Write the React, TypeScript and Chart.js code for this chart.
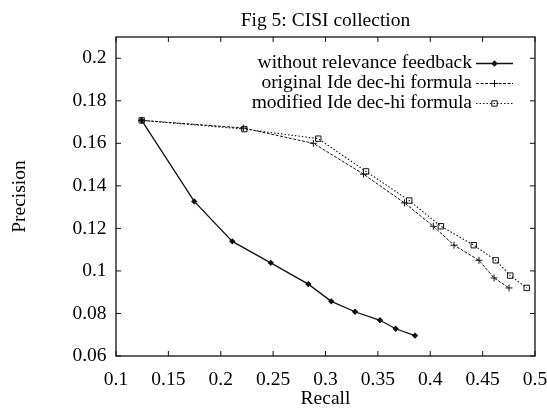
import React, { useEffect, useRef } from 'react';
import { Chart, registerables } from 'chart.js';

Chart.register(...registerables);

const FONT = '"Liberation Serif", "Times New Roman", serif';
const FONT_SIZE = 19.5;
const INK = '#111111';

const chartTitle = 'Fig 5: CISI collection';
const xAxisTitle = 'Recall';
const yAxisTitle = 'Precision';
const seriesLabels = [
  'without relevance feedback',
  'original Ide dec-hi formula',
  'modified Ide dec-hi formula',
];

const recallWithout = [0.1245, 0.1747, 0.211, 0.2477, 0.2836, 0.3055, 0.3282, 0.352, 0.367, 0.3854];
const precisionWithout = [0.1708, 0.1327, 0.1139, 0.1038, 0.0938, 0.0857, 0.0808, 0.0768, 0.0728, 0.0696];

const recallOriginal = [0.1245, 0.2215, 0.2884, 0.3363, 0.3754, 0.4029, 0.4227, 0.4465, 0.4609, 0.4752];
const precisionOriginal = [0.1708, 0.1672, 0.16, 0.1455, 0.132, 0.121, 0.1121, 0.105, 0.0967, 0.092];

const recallModified = [0.1245, 0.2225, 0.2931, 0.3387, 0.3799, 0.4101, 0.4415, 0.4625, 0.4764, 0.4921];
const precisionModified = [0.1708, 0.1667, 0.1622, 0.1468, 0.1331, 0.121, 0.1121, 0.105, 0.0978, 0.092];

const xTickValues = [0.1, 0.15, 0.2, 0.25, 0.3, 0.35, 0.4, 0.45, 0.5];
const yTickValues = [0.06, 0.08, 0.1, 0.12, 0.14, 0.16, 0.18, 0.2];
const xMin = 0.1;
const xMax = 0.5;
const yMin = 0.06;
const yMax = 0.21;

const toPoints = (xs: number[], ys: number[]) => xs.map((x, i) => ({ x, y: ys[i] }));
const fmt = (v: number | string) => String(parseFloat(Number(v).toFixed(2)));

type MarkerKind = 'diamond' | 'cross' | 'square';
const markerKinds: MarkerKind[] = ['diamond', 'cross', 'square'];

function drawMarker(ctx: CanvasRenderingContext2D, kind: MarkerKind, x: number, y: number) {
  ctx.save();
  ctx.setLineDash([]);
  ctx.strokeStyle = INK;
  ctx.fillStyle = INK;
  ctx.lineWidth = 1;
  ctx.beginPath();
  if (kind === 'diamond') {
    const r = 3.2;
    ctx.moveTo(x, y - r);
    ctx.lineTo(x + r, y);
    ctx.lineTo(x, y + r);
    ctx.lineTo(x - r, y);
    ctx.closePath();
    ctx.fill();
  } else if (kind === 'cross') {
    const r = 3.5;
    ctx.moveTo(x - r, y);
    ctx.lineTo(x + r, y);
    ctx.moveTo(x, y - r);
    ctx.lineTo(x, y + r);
    ctx.stroke();
  } else {
    const r = 2.7;
    ctx.rect(x - r, y - r, 2 * r, 2 * r);
    ctx.stroke();
  }
  ctx.restore();
}

const framePlugin = {
  id: 'gnuplotFrame',
  afterDraw(chart: any) {
    const { ctx, chartArea } = chart;
    const { left, right, top, bottom } = chartArea;
    const xs = chart.scales.x;
    const ys = chart.scales.y;
    ctx.save();
    ctx.strokeStyle = INK;
    ctx.lineWidth = 1.3;
    ctx.setLineDash([]);
    ctx.strokeRect(left, top, right - left, bottom - top);
    const tl = 5;
    ctx.lineWidth = 1;
    ctx.beginPath();
    xs.ticks.forEach((t: any) => {
      const px = xs.getPixelForValue(t.value);
      ctx.moveTo(px, bottom);
      ctx.lineTo(px, bottom - tl);
      ctx.moveTo(px, top);
      ctx.lineTo(px, top + tl);
    });
    ys.ticks.forEach((t: any) => {
      const py = ys.getPixelForValue(t.value);
      ctx.moveTo(left, py);
      ctx.lineTo(left + tl, py);
      ctx.moveTo(right, py);
      ctx.lineTo(right - tl, py);
    });
    ctx.stroke();

    // title
    ctx.fillStyle = '#000';
    ctx.font = `${FONT_SIZE}px ${FONT}`;
    ctx.textAlign = 'center';
    ctx.textBaseline = 'alphabetic';
    ctx.fillText(chartTitle, (left + right) / 2, 26);

    // legend
    const textRight = 472;
    const sampleLeft = 476;
    const sampleRight = 513;
    chart.data.datasets.forEach((ds: any, i: number) => {
      const rowY = 63.5 + i * 20;
      ctx.fillStyle = '#000';
      ctx.textAlign = 'right';
      ctx.textBaseline = 'alphabetic';
      ctx.fillText(ds.label, textRight, rowY + 4.5);
      ctx.beginPath();
      ctx.strokeStyle = INK;
      ctx.lineWidth = ds.borderWidth;
      ctx.setLineDash(ds.borderDash || []);
      ctx.moveTo(sampleLeft, rowY);
      ctx.lineTo(sampleRight, rowY);
      ctx.stroke();
      drawMarker(ctx, markerKinds[i], (sampleLeft + sampleRight) / 2, rowY);
    });
    ctx.restore();
  },
};

const markerPlugin = {
  id: 'gnuplotMarkers',
  afterDatasetsDraw(chart: any) {
    const { ctx } = chart;
    chart.data.datasets.forEach((_ds: any, i: number) => {
      const meta = chart.getDatasetMeta(i);
      meta.data.forEach((pt: any) => drawMarker(ctx, markerKinds[i], pt.x, pt.y));
    });
  },
};

export default function App() {
  const canvasRef = useRef<HTMLCanvasElement | null>(null);

  useEffect(() => {
    const canvas = canvasRef.current;
    if (!canvas) return;
    const axisTickFont = { family: FONT, size: FONT_SIZE, lineHeight: 1.2 };
    const axisTitleFont = { family: FONT, size: FONT_SIZE, lineHeight: 1 };
    const chart = new Chart(canvas, {
      type: 'scatter',
      data: {
        datasets: [
          {
            label: seriesLabels[0],
            data: toPoints(recallWithout, precisionWithout),
            showLine: true,
            borderColor: INK,
            borderWidth: 1.3,
            borderDash: [],
            pointRadius: 0,
          },
          {
            label: seriesLabels[1],
            data: toPoints(recallOriginal, precisionOriginal),
            showLine: true,
            borderColor: INK,
            borderWidth: 1,
            borderDash: [3, 1.5],
            pointRadius: 0,
          },
          {
            label: seriesLabels[2],
            data: toPoints(recallModified, precisionModified),
            showLine: true,
            borderColor: INK,
            borderWidth: 1.1,
            borderDash: [1.5, 2],
            pointRadius: 0,
          },
        ] as any,
      },
      options: {
        animation: false,
        responsive: false,
        devicePixelRatio: 1,
        layout: { padding: { top: 37, right: 0, left: 0, bottom: 0 } },
        elements: { line: { tension: 0 } },
        plugins: {
          legend: { display: false },
          title: { display: false },
          tooltip: { enabled: false },
        },
        scales: {
          x: {
            type: 'linear',
            position: 'bottom',
            min: xMin,
            max: xMax,
            afterBuildTicks: (scale: any) => {
              scale.ticks = xTickValues.map((value) => ({ value }));
            },
            afterFit: (scale: any) => {
              scale.height = 52;
              scale.paddingLeft = 0;
              scale.paddingRight = 12;
            },
            grid: { display: false, drawTicks: false },
            border: { display: false },
            ticks: {
              padding: 12.5,
              color: '#000',
              font: axisTickFont,
              maxRotation: 0,
              autoSkip: false,
              callback: (v: any) => fmt(v),
            },
            title: {
              display: true,
              text: xAxisTitle,
              color: '#000',
              font: axisTitleFont,
              padding: { top: 0, bottom: -0.5 },
            },
          },
          y: {
            type: 'linear',
            position: 'left',
            min: yMin,
            max: yMax,
            afterBuildTicks: (scale: any) => {
              scale.ticks = yTickValues.map((value) => ({ value }));
            },
            afterFit: (scale: any) => {
              scale.width = 116;
              scale.paddingTop = 0;
              scale.paddingBottom = 0;
            },
            grid: { display: false, drawTicks: false },
            border: { display: false },
            ticks: {
              padding: 9.5,
              color: '#000',
              font: axisTickFont,
              autoSkip: false,
              callback: (v: any) => fmt(v),
            },
            title: {
              display: true,
              text: yAxisTitle,
              color: '#000',
              font: axisTitleFont,
              padding: { top: 10, bottom: 0 },
            },
          },
        },
      } as any,
      plugins: [markerPlugin, framePlugin],
    });
    return () => chart.destroy();
  }, []);

  return (
    <div style={{ position: 'fixed', left: 0, top: 0, width: 547, height: 408, background: '#fff' }}>
      <canvas ref={canvasRef} width={547} height={408} style={{ display: 'block', width: 547, height: 408 }} />
    </div>
  );
}
